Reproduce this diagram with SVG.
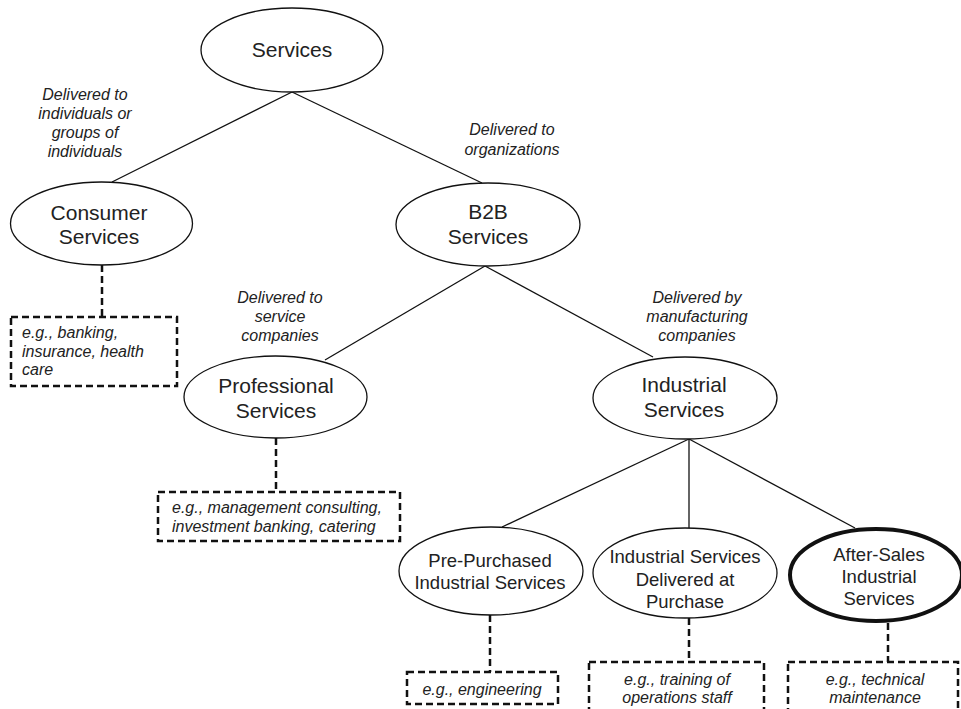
<svg xmlns="http://www.w3.org/2000/svg" width="961" height="709" viewBox="0 0 961 709">
<style>
.bg{fill:#ffffff}
.node ellipse{fill:#ffffff;stroke:#111;stroke-width:1.3}
.node ellipse.bold{stroke-width:4}
.t{font-family:"Liberation Sans",Arial,sans-serif;font-size:21px;fill:#222;text-anchor:middle}
.ts{font-family:"Liberation Sans",Arial,sans-serif;font-size:18.5px;fill:#222;text-anchor:middle}
.lab{font-family:"Liberation Sans",Arial,sans-serif;font-size:16px;font-style:italic;fill:#222;text-anchor:middle}
.ex{font-family:"Liberation Sans",Arial,sans-serif;font-size:16px;font-style:italic;fill:#222}
.box{fill:#ffffff;stroke:#111;stroke-width:2.5;stroke-dasharray:7 4}
.edge{stroke:#111;stroke-width:1.3;fill:none}
.dash{stroke:#111;stroke-width:2.5;stroke-dasharray:7 4;fill:none}
</style>
<rect class="bg" x="0" y="0" width="961" height="709"/>
<g id="connectors">
<line class="edge" x1="292" y1="92" x2="112" y2="182"/>
<line class="edge" x1="292" y1="92" x2="482" y2="183"/>
<line class="edge" x1="485" y1="266" x2="325" y2="360"/>
<line class="edge" x1="485" y1="266" x2="653" y2="357"/>
<line class="edge" x1="689" y1="439" x2="502" y2="527"/>
<line class="edge" x1="689" y1="439" x2="689" y2="528"/>
<line class="edge" x1="689" y1="439" x2="855" y2="528"/>
<line class="dash" x1="102" y1="265" x2="102" y2="317"/>
<line class="dash" x1="276" y1="438" x2="276" y2="492"/>
<line class="dash" x1="490" y1="615" x2="490" y2="672"/>
<line class="dash" x1="689" y1="618" x2="689" y2="662"/>
<line class="dash" x1="888" y1="623" x2="888" y2="662"/>
</g>
<g id="labels">
<text class="lab" x="85" y="100">Delivered to</text>
<text class="lab" x="85" y="119">individuals or</text>
<text class="lab" x="85" y="138">groups of</text>
<text class="lab" x="85" y="157">individuals</text>
<text class="lab" x="512" y="135">Delivered to</text>
<text class="lab" x="512" y="155">organizations</text>
<text class="lab" x="280" y="303">Delivered to</text>
<text class="lab" x="280" y="322">service</text>
<text class="lab" x="280" y="341">companies</text>
<text class="lab" x="697" y="303">Delivered by</text>
<text class="lab" x="697" y="322">manufacturing</text>
<text class="lab" x="697" y="341">companies</text>
</g>
<g id="services" class="node">
<ellipse cx="292" cy="50" rx="91" ry="42"/>
<text class="t" x="292" y="57">Services</text>
</g>
<g id="consumer" class="node">
<ellipse cx="101.5" cy="223.5" rx="91" ry="41.5"/>
<text class="t" x="99" y="220">Consumer</text>
<text class="t" x="99" y="244">Services</text>
</g>
<g id="b2b" class="node">
<ellipse cx="488" cy="224.5" rx="92" ry="41.5"/>
<text class="t" x="488" y="219">B2B</text>
<text class="t" x="488" y="244">Services</text>
</g>
<g id="professional" class="node">
<ellipse cx="275.5" cy="397" rx="91.5" ry="41"/>
<text class="t" x="276" y="393">Professional</text>
<text class="t" x="276" y="418">Services</text>
</g>
<g id="industrial" class="node">
<ellipse cx="685" cy="398" rx="92" ry="41"/>
<text class="t" x="684" y="392">Industrial</text>
<text class="t" x="684" y="417">Services</text>
</g>
<g id="prepurchased" class="node">
<ellipse cx="491" cy="571" rx="92" ry="44"/>
<text class="ts" x="490" y="567">Pre-Purchased</text>
<text class="ts" x="490" y="589">Industrial Services</text>
</g>
<g id="atpurchase" class="node">
<ellipse cx="685" cy="573" rx="92" ry="45"/>
<text class="ts" x="685" y="563">Industrial Services</text>
<text class="ts" x="685" y="586">Delivered at</text>
<text class="ts" x="685" y="608">Purchase</text>
</g>
<g id="aftersales" class="node">
<ellipse class="bold" cx="876" cy="575" rx="86" ry="46"/>
<text class="ts" x="879" y="561">After-Sales</text>
<text class="ts" x="879" y="583">Industrial</text>
<text class="ts" x="879" y="605">Services</text>
</g>
<g id="ex-consumer">
<rect class="box" x="11" y="317" width="166" height="69"/>
<text class="ex" x="22" y="338">e.g., banking,</text>
<text class="ex" x="22" y="357">insurance, health</text>
<text class="ex" x="22" y="375">care</text>
</g>
<g id="ex-professional">
<rect class="box" x="158" y="492" width="242" height="49"/>
<text class="ex" x="172" y="513">e.g., management consulting,</text>
<text class="ex" x="172" y="532">investment banking, catering</text>
</g>
<g id="ex-prepurchased">
<rect class="box" x="407" y="672" width="151" height="32"/>
<text class="lab" x="482" y="695">e.g., engineering</text>
</g>
<g id="ex-atpurchase">
<rect class="box" x="589" y="662" width="175" height="60"/>
<text class="lab" x="677" y="685">e.g., training of</text>
<text class="lab" x="677" y="703">operations staff</text>
</g>
<g id="ex-aftersales">
<rect class="box" x="788" y="662" width="170" height="60"/>
<text class="lab" x="875" y="685">e.g., technical</text>
<text class="lab" x="875" y="703">maintenance</text>
</g>
</svg>
